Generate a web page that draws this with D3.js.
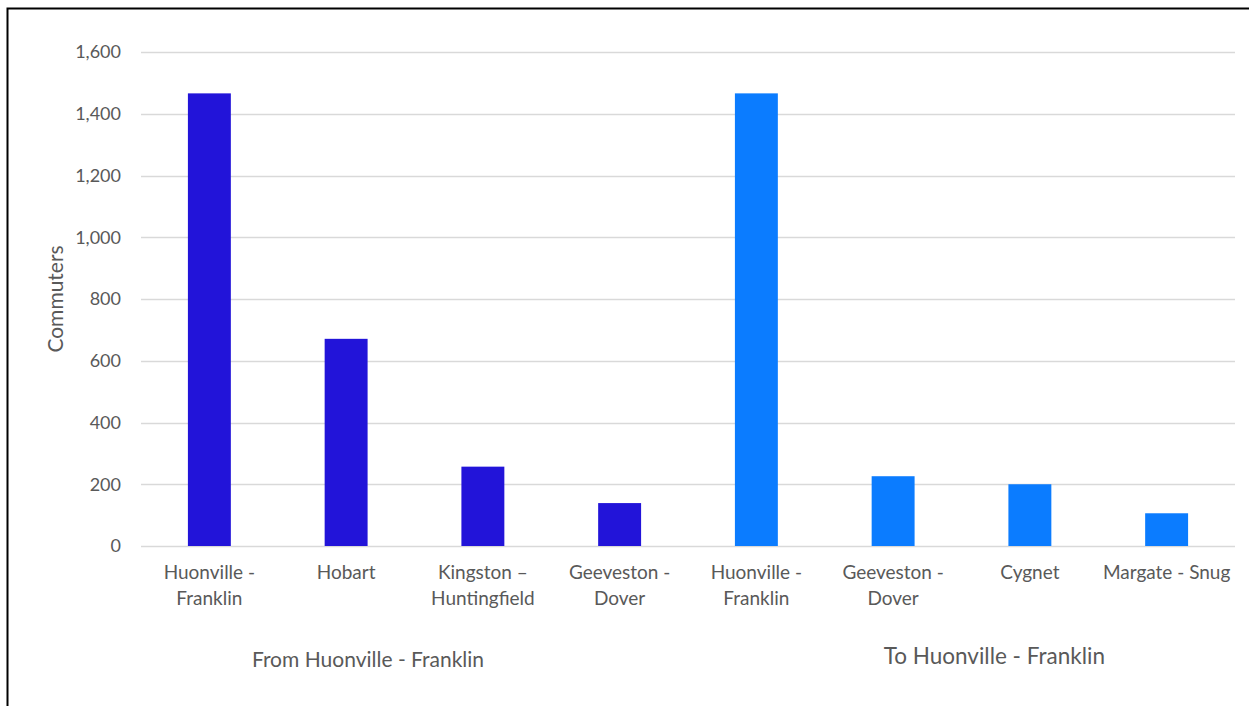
<!DOCTYPE html>
<html>
<head>
<meta charset="utf-8">
<script src="https://cdn.jsdelivr.net/npm/d3@7"></script>
<style>
  html, body { margin: 0; padding: 0; background: #fff; }
  svg { display: block; }
  text { font-family: Lato, "Open Sans", sans-serif; fill: #595959; }
</style>
</head>
<body>
<svg id="chart" width="1249" height="706"></svg>
<script>
// Commuter flows, Huonville - Franklin
const categories = [
  ["Huonville -", "Franklin"],
  ["Hobart"],
  ["Kingston \u2013", "Huntingfield"],
  ["Geeveston -", "Dover"],
  ["Huonville -", "Franklin"],
  ["Geeveston -", "Dover"],
  ["Cygnet"],
  ["Margate - Snug"]
];
const values = [1466, 671, 257, 139, 1466, 226, 200, 106];
const groups = ["From", "From", "From", "From", "To", "To", "To", "To"];
const groupNames = ["From", "To"];
const groupLabels = ["From Huonville - Franklin", "To Huonville - Franklin"];
const yTicks = [0, 200, 400, 600, 800, 1000, 1200, 1400, 1600];
const yTitle = "Commuters";

const colors = { From: "#2214d9", To: "#0b7cff" };

const svg = d3.select("#chart");
const W = 1249, H = 706;
const plot = { left: 141, right: 1235, top: 52, bottom: 546 };

// frame around the chart area
svg.append("path")
  .attr("d", `M7.5,${H} L7.5,8.5 L${W},8.5`)
  .attr("fill", "none")
  .attr("stroke", "#000")
  .attr("stroke-width", 2);

const idx = d3.range(values.length);
const x = d3.scaleBand().domain(idx).range([plot.left, plot.right]).paddingInner(0.686).paddingOuter(0.343);
const y = d3.scaleLinear().domain([0, 1600]).range([plot.bottom, plot.top]);

// gridlines
svg.append("g").selectAll("line").data(yTicks).join("line")
  .attr("x1", plot.left).attr("x2", plot.right)
  .attr("y1", d => Math.round(y(d)) + 0.5).attr("y2", d => Math.round(y(d)) + 0.5)
  .attr("stroke", "#d9d9d9").attr("stroke-width", 1.3);

// y axis labels
const yAxis = d3.axisLeft(y).tickValues(yTicks).tickFormat(d3.format(",")).tickSize(0).tickPadding(20);
const yg = svg.append("g").attr("transform", `translate(${plot.left},0)`).call(yAxis);
yg.select(".domain").remove();
yg.selectAll("text").attr("font-size", 18).style("font-family", "Lato, sans-serif").attr("fill", "#595959");

// bars
svg.append("g").selectAll("rect").data(idx).join("rect")
  .attr("x", i => x(i))
  .attr("width", x.bandwidth())
  .attr("y", i => y(values[i]))
  .attr("height", i => y(0) - y(values[i]))
  .attr("fill", i => colors[groups[i]]);

// category labels
const cl = svg.append("g").selectAll("text").data(idx).join("text")
  .attr("text-anchor", "middle")
  .attr("font-size", 19)
  .attr("x", i => x(i) + x.bandwidth() / 2)
  .attr("y", 579);
cl.selectAll("tspan").data(i => categories[i].map(s => ({ s, i }))).join("tspan")
  .attr("x", d => x(d.i) + x.bandwidth() / 2)
  .attr("dy", (d, k) => k === 0 ? 0 : 26)
  .text(d => d.s);

// group labels, placed beneath their bars
const groupPos = [{ dx: -0.34, y: 667, size: 21 }, { dx: 0.24, y: 664, size: 22.5 }];
svg.append("g").selectAll("text").data(groupNames).join("text")
  .attr("text-anchor", "middle")
  .attr("font-size", (d, k) => groupPos[k].size)
  .attr("x", (g, k) => {
    const members = idx.filter(i => groups[i] === g);
    const mid = (x(members[0]) + x(members[members.length - 1]) + x.bandwidth()) / 2;
    return mid + groupPos[k].dx * x.step();
  })
  .attr("y", (d, k) => groupPos[k].y)
  .text((d, k) => groupLabels[k]);

// y axis title
svg.append("text")
  .attr("transform", `translate(63,${(plot.top + plot.bottom) / 2}) rotate(-90)`)
  .attr("text-anchor", "middle")
  .attr("font-size", 21)
  .text(yTitle);
</script>
</body>
</html>
